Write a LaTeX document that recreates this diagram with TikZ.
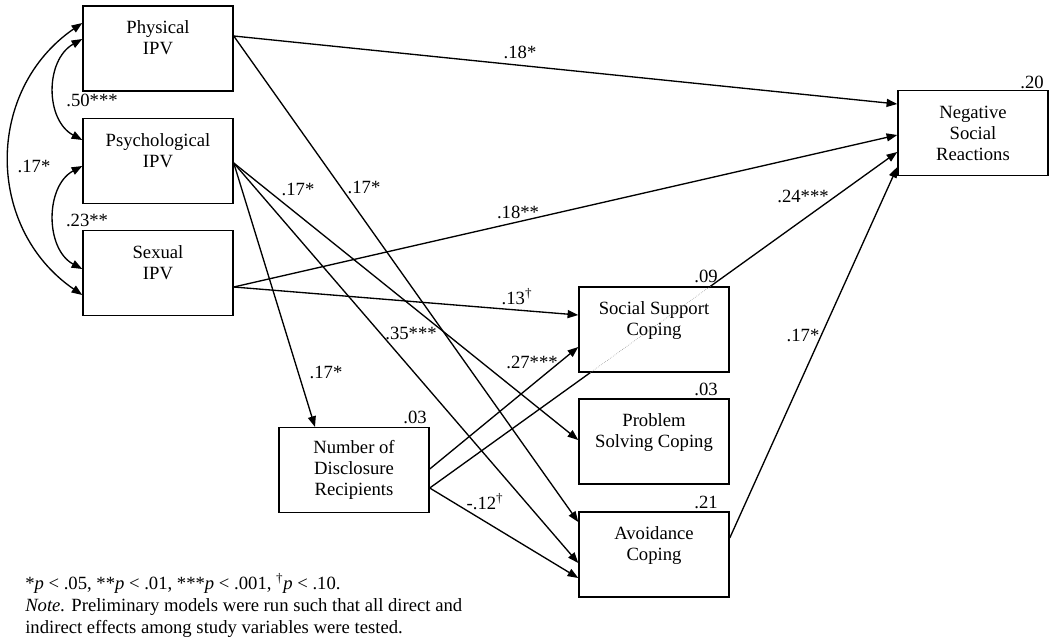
\documentclass[tikz,border=0pt]{standalone}
\usepackage{fontspec}
\setmainfont{Liberation Serif}
\usetikzlibrary{arrows.meta,calc,backgrounds}
\begin{document}
\begin{tikzpicture}[x=0.75pt,y=-0.75pt,
  box/.style={draw, line width=1.1pt, fill=white, minimum width=112.5pt, minimum height=63.5pt, align=center, inner sep=0pt, font=\fontsize{14}{15.8}\selectfont},
  pth/.style={line width=1pt, -{Triangle[length=8pt,width=6pt]}},
  cov/.style={line width=1pt, {Triangle[length=8pt,width=6pt]}-{Triangle[length=8pt,width=6pt]}},
  coef/.style={font=\fontsize{14}{16}\selectfont, inner sep=0pt}]
\useasboundingbox (0,0) rectangle (1050,643);

% boxes
\node[box] (phys)  at (158,48.5) {Physical\\IPV\\\mbox{}};
\node[box] (psych) at (158,161)  {Psychological\\IPV\\\mbox{}};
\node[box] (sex)   at (158,273)  {Sexual\\IPV\\\mbox{}};
\node[box] (nsr)   at (973,133)  {Negative\\Social\\Reactions};
\node[box] (ssc)   at (654,329.5) {Social Support\\Coping\\\mbox{}};
\node[box] (psc)   at (654,441.5) {Problem\\Solving Coping\\\mbox{}};
\node[box] (avc)   at (654,554.5) {Avoidance\\Coping\\\mbox{}};
\node[box] (ndr)   at (354,470)  {Number of\\Disclosure\\Recipients};

% R-squared
\node[coef] (r1) at (1032,82) {.20};
\node[coef] (r2) at (706,276) {.09};
\node[coef] (r3) at (706,389) {.03};
\node[coef] (r4) at (706,502) {.21};
\node[coef] (r5) at (415,417) {.03};

% paths
\begin{scope}[on background layer]
\fill[white] (0,0) rectangle (1050,643);
\draw[pth] ($(phys.east)+(0,-12.5)$) -- ($(nsr.west)+(0,-29)$);
\draw[pth] ($(phys.east)+(0,-12.5)$) -- ($(avc.west)+(0,-32.5)$);
\draw[pth] ($(psych.east)+(0,2)$) -- ($(ndr.north)+(-39,0)$);
\draw[pth] ($(psych.east)+(0,2)$) -- ($(psc.west)+(0,-1.5)$);
\draw[pth] ($(psych.east)+(0,2)$) -- ($(avc.west)+(0,8.5)$);
\draw[pth] ($(sex.east)+(0,14)$) -- ($(nsr.west)+(0,2)$);
\draw[pth] ($(sex.east)+(0,14)$) -- ($(ssc.west)+(0,-14.5)$);
\draw[pth] ($(ndr.east)+(0,-1)$) -- ($(ssc.west)+(0,17.5)$);
\draw[pth] ($(ndr.east)+(0,18)$) -- ($(nsr.west)+(0,19)$);
\draw[pth] ($(ndr.east)+(0,18)$) -- ($(avc.west)+(0,23.5)$);
\draw[pth] ($(avc.east)+(0,-16.5)$) -- ($(nsr.west)+(0,34)$);
\end{scope}
% part of the line seen through the Social Support Coping box
\begin{scope}
\clip (ssc.south west) rectangle (ssc.north east);
\draw[gray, line width=0.4pt, densely dotted] ($(ndr.east)+(0,18)$) -- ($(nsr.west)+(0,19)$);
\end{scope}

% covariances
\draw[cov] ($(phys.west)+(0,-9.5)$) .. controls (45,60) and (45,120) .. ($(psych.west)+(0,-21)$);
\draw[cov] ($(psych.west)+(0,5)$) .. controls (45,186) and (45,249) .. ($(sex.west)+(0,-4)$);
\draw[cov] ($(phys.west)+(0,-25.5)$) .. controls (-15,90) and (-15,228) .. ($(sex.west)+(0,22)$);

% coefficients
\node[coef] (c1) at (92,100) {.50***};
\node[coef] (c2) at (87,220) {.23**};
\node[coef] (c3) at (34,166) {.17*};
\node[coef] (c4) at (520,52) {.18*};
\node[coef] (c5) at (298,189) {.17*};
\node[coef] (c6) at (364,187) {.17*};
\node[coef] (c7) at (518,212) {.18**};
\node[coef] (c8) at (517,297) {.13\textsuperscript{†}};
\node[coef] (c9) at (411,333) {.35***};
\node[coef] (c10) at (532,362) {.27***};
\node[coef] (c11) at (803,196) {.24***};
\node[coef] (c12) at (803,335) {.17*};
\node[coef] (c13) at (485,502) {-.12\textsuperscript{†}};
\node[coef] (c14) at (326,372) {.17*};

% note
\node[anchor=north west, align=left, inner sep=0pt, font=\fontsize{14}{16.5}\selectfont] (note) at (25,573)
{*\textit{p} < .05, **\textit{p} < .01, ***\textit{p} < .001, \textsuperscript{†}\textit{p} < .10.\\
\textit{Note.} Preliminary models were run such that all direct and\\
indirect effects among study variables were tested.};
\end{tikzpicture}
\end{document}
